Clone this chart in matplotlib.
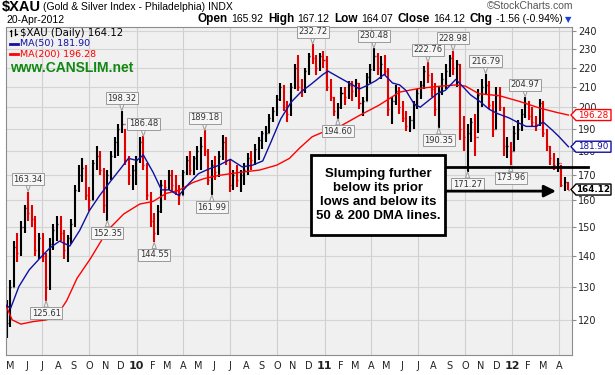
import pandas as pd
import matplotlib
matplotlib.use("Agg")
import matplotlib.pyplot as plt
import matplotlib.dates as mdates
from matplotlib.patches import Polygon, Rectangle
from matplotlib.lines import Line2D
from matplotlib.ticker import FixedLocator, NullLocator, FuncFormatter

plt.rcParams["font.family"] = ["DejaVu Sans"]

# weekly bars (one stamp per week)
weeks = pd.date_range("2009-04-23", "2012-04-19", freq="W-THU")

highs_2009 = [126, 132, 145, 148, 152, 158, 163.34, 158, 154, 148, 148, 141,
              146, 151, 154, 154, 149, 147, 153, 166, 174, 177, 174, 165,
              176, 182, 180, 173, 172, 180, 186, 192, 198.32, 190, 178, 174]
lows_2009 = [115, 118, 130, 138, 140, 148, 152, 150, 140, 139, 138, 125.61,
             129, 142, 145, 145, 139, 138, 144, 150, 163, 167, 160, 156,
             160, 172, 170, 155, 152.35, 168, 177, 178, 188, 174, 166, 164]
closes_2009 = [119, 130, 143, 141, 150, 157, 155, 153, 142, 146, 140, 130,
               144, 149, 151, 148, 142, 146, 151, 164, 170, 173, 162, 160,
               175, 178, 172, 158, 170, 178, 184, 190, 192, 176, 170, 172]

highs_2010 = [178, 186, 186.48, 175, 163, 155, 158, 168, 168, 172, 172, 170,
              166, 172, 178, 180, 178, 182, 186, 189.18, 181, 176, 178, 180,
              187, 186, 176, 172, 174, 172, 175, 179, 180, 183, 186, 189,
              191, 197, 200, 206, 212, 211, 203, 212, 222, 227, 214, 220,
              228, 232.72, 227, 228, 229]
lows_2010 = [166, 175, 172, 160, 150, 144.55, 147, 155, 160, 164, 163, 162,
             158, 162, 170, 170, 170, 172, 172, 178, 166, 161.99, 168, 169,
             176, 174, 163, 164, 165, 163, 166, 170, 172, 174, 176, 181,
             184, 188, 193, 196, 203, 198, 193, 196, 209, 208, 205, 207,
             216, 222, 216, 218, 220]
closes_2010 = [176, 184, 174, 162, 152, 148, 156, 166, 165, 170, 166, 164,
               162, 171, 176, 172, 177, 180, 182, 180, 168, 174, 171, 178,
               184, 176, 166, 170, 168, 170, 172, 177, 176, 181, 185, 188,
               188, 195, 198, 204, 210, 200, 197, 210, 220, 210, 209, 218,
               226, 225, 220, 226, 224]

highs_2011 = [226, 214, 205, 202, 210, 210, 213, 213, 214, 212, 205, 217,
              222, 230.48, 228, 226, 227, 220, 205, 211, 210, 203, 198, 196,
              203, 209, 213, 221, 222.76, 217, 212, 210, 217, 222, 227, 228.98,
              224, 222, 196, 192, 195, 197, 209, 214, 216.79, 213, 203, 210,
              210, 200, 186, 184]
lows_2011 = [208, 203, 196, 194.60, 199, 201, 204, 203, 205, 199, 196, 203,
             212, 218, 216, 214, 216, 196, 192, 201, 197, 193, 189, 188.5,
             190, 199, 204, 209, 212, 205, 196, 190.35, 206, 209, 215, 216,
             210, 185, 180, 171.27, 184, 178, 188, 200, 206, 199, 186, 190,
             198, 178, 177, 173.96]
closes_2011 = [210, 205, 198, 200, 207, 205, 211, 208, 212, 202, 203, 215,
               219, 226, 220, 222, 218, 199, 203, 208, 200, 195, 191, 194,
               201, 207, 211, 218, 216, 209, 199, 208, 214, 218, 225, 220,
               222, 190, 186, 188, 193, 186, 206, 210, 211, 201, 190, 206,
               200, 182, 182, 180]

highs_2012 = [191, 194, 199, 204.97, 203, 200, 196, 204, 203, 190, 182, 179,
              177, 174, 169, 167.12]
lows_2012 = [180, 185, 189, 195, 194, 191, 189, 191, 186, 180, 174, 172,
             171, 165, 163.5, 164.07]
closes_2012 = [188, 190, 197, 202, 196, 193, 192, 202, 188, 182, 177, 174,
               175, 166, 167, 164.12]

highs = highs_2009 + highs_2010 + highs_2011 + highs_2012
lows = lows_2009 + lows_2010 + lows_2011 + lows_2012
closes = closes_2009 + closes_2010 + closes_2011 + closes_2012

ma50_dates = ["2009-04-22", "2009-05-01", "2009-05-17", "2009-06-06", "2009-06-26",
              "2009-07-16", "2009-08-04", "2009-08-24", "2009-09-12", "2009-10-01",
              "2009-10-21", "2009-11-10", "2009-11-30", "2009-12-16", "2010-01-01",
              "2010-01-14", "2010-02-02", "2010-02-18", "2010-03-05", "2010-03-24",
              "2010-04-13", "2010-05-01", "2010-05-21", "2010-06-10", "2010-07-02",
              "2010-07-25", "2010-08-14", "2010-09-03", "2010-09-19", "2010-10-08",
              "2010-10-28", "2010-11-16", "2010-12-08", "2010-12-29", "2011-01-08",
              "2011-01-31", "2011-02-19", "2011-03-10", "2011-03-22", "2011-04-11",
              "2011-04-27", "2011-05-13", "2011-05-27", "2011-06-08", "2011-06-24",
              "2011-07-06", "2011-07-22", "2011-08-08", "2011-08-24", "2011-09-13",
              "2011-09-26", "2011-10-12", "2011-11-01", "2011-11-17", "2011-12-03",
              "2011-12-26", "2012-01-15", "2012-01-28", "2012-02-17", "2012-03-01",
              "2012-03-20", "2012-04-01", "2012-04-19"]
ma50_values = [124.3, 123.4, 130, 135.3, 139, 142.6, 145, 143.3, 148.7, 156,
               161.8, 167.1, 172.4, 176.9, 176, 178.3, 171, 164, 164, 161.8,
               166.6, 170.5, 172.4, 174, 176.5, 173.3, 174, 175.8, 184, 194.5,
               202.4, 207.4, 211.8, 216.4, 218.1, 214.6, 211.8, 209, 210.4, 213.2,
               216.4, 212, 211, 208.3, 201.6, 200, 203.2, 206.6, 208.3, 213.8,
               210.4, 206, 202.4, 199, 197, 194.9, 192.4, 191, 191, 193,
               189, 186.3, 181.90]

ma200_dates = ["2009-04-22", "2009-05-04", "2009-05-21", "2009-06-13", "2009-07-09",
               "2009-07-29", "2009-08-18", "2009-09-07", "2009-10-03", "2009-11-05",
               "2009-12-07", "2010-01-07", "2010-02-02", "2010-02-27", "2010-03-24",
               "2010-04-20", "2010-05-12", "2010-06-10", "2010-07-19", "2010-08-28",
               "2010-09-30", "2010-10-25", "2010-11-14", "2010-12-08", "2011-01-04",
               "2011-01-31", "2011-03-10", "2011-04-17", "2011-05-27", "2011-07-03",
               "2011-08-11", "2011-09-13", "2011-10-02", "2011-10-28", "2011-12-07",
               "2012-01-15", "2012-02-23", "2012-03-26", "2012-04-19"]
ma200_values = [124.2, 120, 118.8, 119.5, 120, 121, 125.7, 132.6, 139, 148.7,
                154.8, 158.5, 159.5, 162.6, 163.8, 166.9, 168.5, 169.8, 171, 172,
                174, 176.9, 181.4, 186.3, 189, 191, 196.1, 201, 207.4, 209.2,
                210.3, 211, 210.4, 206.6, 205.6, 202.8, 199.6, 197.6, 196.28]

peak_labels = [163.34, 198.32, 186.48, 189.18, 232.72, 230.48, 222.76, 228.98, 216.79, 204.97]
trough_labels = [125.61, 152.35, 144.55, 161.99, 194.60, 190.35, 171.27, 173.96]

last_close = 164.12
ma50_last = 181.90
ma200_last = 196.28
support_level = 173.4
arrow_level = 163.5
y_ticks = list(range(120, 241, 10))

W, H = 615, 375


def fx(x):
    return x / W


def fy(y):
    return 1 - y / H


fig = plt.figure(figsize=(W / 100, H / 100), dpi=100)
ax = fig.add_axes([fx(6), fy(355), (572 - 6) / W, (355 - 27) / H])
ax.set_facecolor("#f0f0f0")
for s in ax.spines.values():
    s.set_color("#8c8c8c")
    s.set_linewidth(0.8)

ax.set_yscale("log")
ax.set_ylim(110.3, 242.5)
ax.set_xlim(mdates.date2num(pd.Timestamp("2009-04-22")), mdates.date2num(pd.Timestamp("2012-04-26")))

# grid
month_starts = pd.date_range("2009-05-01", "2012-04-01", freq="MS")
mnum = mdates.date2num(month_starts.to_pydatetime())
for d, m in zip(month_starts, mnum):
    if d.month in (1, 4, 7, 10):
        ax.axvline(m, color="#cfcfcf", lw=0.8, zorder=0.5)
for t in y_ticks:
    ax.axhline(t, color="#d4d4d4", lw=0.8, zorder=0.5)

# price bars
x = mdates.date2num(weeks.to_pydatetime())
opens = [closes[0]] + closes[:-1]
colors = ["black" if c >= o else "#e00000" for c, o in zip(closes, opens)]
ax.vlines(x, lows, highs, colors=colors, lw=1.5, zorder=2)
ax.hlines(closes, x, x + 2, colors=colors, lw=1.0, zorder=2)
ax.hlines(opens, x - 2, x, colors=colors, lw=1.0, zorder=2)

# moving averages
ax.plot(pd.to_datetime(ma200_dates), ma200_values, color="#ff0000", lw=1.0, zorder=3)
ax.plot(pd.to_datetime(ma50_dates), ma50_values, color="#1010a0", lw=1.0, zorder=3)

# axes ticks
ax.yaxis.tick_right()
ax.yaxis.set_major_locator(FixedLocator(y_ticks))
ax.yaxis.set_minor_locator(NullLocator())
ax.yaxis.set_major_formatter(FuncFormatter(lambda v, p: f"{v:.0f}"))
ax.tick_params(axis="y", length=3, width=0.8, color="#8c8c8c", pad=1.5,
               labelsize=7, labelcolor="#222222")

ax.set_xticks(mnum)
ax.set_xticklabels([f"{d.year % 100:02d}" if d.month == 1 else "JFMAMJJASOND"[d.month - 1]
                    for d in month_starts])
ax.tick_params(axis="x", length=0, pad=4, labelsize=7, labelcolor="#222222")
for lab, d in zip(ax.get_xticklabels(), month_starts):
    if d.month == 1:
        lab.set_fontweight("bold")
        lab.set_fontsize(8)

# high / low callouts
box = dict(boxstyle="square,pad=0.18", fc="#f6f6f6", ec="#9a9a9a", lw=0.7)
arrow = dict(arrowstyle="wedge,tail_width=0.5,shrink_factor=0.5", fc="#f6f6f6",
             ec="#9a9a9a", lw=0.7, shrinkA=0, shrinkB=0)
for v in peak_labels:
    i = highs.index(v)
    ax.annotate(f"{v:.2f}", xy=(x[i], v), xytext=(0, 9), textcoords="offset points",
                ha="center", va="center", fontsize=6, color="#333333", bbox=box,
                arrowprops=arrow, zorder=5)
for v in trough_labels:
    i = lows.index(v)
    ax.annotate(f"{v:.2f}", xy=(x[i], v), xytext=(0, -9), textcoords="offset points",
                ha="center", va="center", fontsize=6, color="#333333", bbox=box,
                arrowprops=arrow, zorder=5)

# support line and arrow
ax.plot([(445 - 6) / 566, (588 - 6) / 566], [support_level, support_level], color="black",
        lw=2, transform=ax.get_yaxis_transform(), clip_on=False, zorder=6)
ax.annotate("", xy=((556 - 6) / 566, arrow_level), xytext=((445 - 6) / 566, arrow_level),
            xycoords=ax.get_yaxis_transform(), textcoords=ax.get_yaxis_transform(),
            arrowprops=dict(arrowstyle="-|>,head_length=0.7,head_width=0.35", lw=2,
                            color="black", shrinkA=0, shrinkB=0), zorder=6)

# comment box
fig.add_artist(Rectangle((fx(311), fy(235)), 134 / W, 80 / H, transform=fig.transFigure,
                         fc="white", ec="black", lw=2, zorder=4))
fig.text(fx(378), fy(195), "Slumping further\nbelow its prior\nlows and below its\n50 & 200 DMA lines.",
         ha="center", va="center", fontsize=9.5, fontweight="bold", family="Liberation Sans",
         linespacing=1.25, zorder=5)


# value tags on the right edge
def value_tag(price, color, bold=False):
    y = H - ax.get_yaxis_transform().transform((0, price))[1]
    pts = [(571, y), (576, y - 5.5), (611, y - 5.5), (611, y + 5.5), (576, y + 5.5)]
    fig.add_artist(Polygon([(fx(a), fy(b)) for a, b in pts], closed=True,
                           transform=fig.transFigure, fc="white", ec=color, lw=1, zorder=6))
    fig.text(fx(593.5), fy(y), f"{price:.2f}", ha="center", va="center", fontsize=6.3,
             color=color, fontweight="bold" if bold else "normal", zorder=7)


value_tag(ma200_last, "#ff0000")
value_tag(ma50_last, "#1010a0")
value_tag(last_close, "black", bold=True)

# legend
fig.add_artist(Line2D([fx(11), fx(11)], [fy(29.5), fy(36)], color="black", lw=0.9))
fig.add_artist(Line2D([fx(9.5), fx(11)], [fy(31), fy(31)], color="black", lw=0.9))
fig.add_artist(Line2D([fx(15), fx(15)], [fy(29), fy(35)], color="black", lw=0.9))
fig.add_artist(Line2D([fx(15), fx(16.5)], [fy(33.5), fy(33.5)], color="black", lw=0.9))
fig.text(fx(20), fy(32.5), f"$XAU (Daily) {last_close:.2f}", fontsize=7.3, va="center")
fig.add_artist(Line2D([fx(10), fx(18)], [fy(43.5), fy(43.5)], color="#1010a0", lw=2))
fig.text(fx(20), fy(43.5), f"MA(50) {ma50_last:.2f}", fontsize=6.8, va="center", color="#1010a0")
fig.add_artist(Line2D([fx(10), fx(18)], [fy(54), fy(54)], color="#ff0000", lw=2))
fig.text(fx(20), fy(54), f"MA(200) {ma200_last:.2f}", fontsize=6.8, va="center", color="#ff0000")
fig.text(fx(10), fy(68.5), "www.CANSLIM.net", fontsize=10, fontweight="bold",
         family="Liberation Sans", va="center", color="#118811")

# header
fig.text(fx(2), fy(7), "$XAU", fontsize=10.5, fontweight="bold", family="Liberation Sans", va="center")
fig.text(fx(43), fy(7.5), "(Gold & Silver Index - Philadelphia) INDX", fontsize=7.5,
         family="Liberation Sans", va="center")
fig.text(fx(6), fy(20), "20-Apr-2012", fontsize=7.5, family="Liberation Sans", va="center")
fig.text(fx(573), fy(6), "\u00a9StockCharts.com", fontsize=7.5, family="Liberation Sans",
         va="center", ha="right", color="#555555")

renderer = fig.canvas.get_renderer()
pieces = [("Open", True), ("165.92", False), ("High", True), ("167.12", False),
          ("Low", True), ("164.07", False), ("Close", True), ("164.12", False),
          ("Chg", True), ("-1.56 (-0.94%)", False)]
cx = 198
for s, bold in pieces:
    t = fig.text(fx(cx), fy(19), s, fontsize=8.5 if bold else 7.5,
                 fontweight="bold" if bold else "normal", family="Liberation Sans", va="center")
    cx += t.get_window_extent(renderer).width + (3 if bold else 5)
fig.text(fx(cx - 3), fy(19.5), "\u25bc", fontsize=6, color="#1a3de0", va="center")

fig.savefig("out.png", dpi=100)
